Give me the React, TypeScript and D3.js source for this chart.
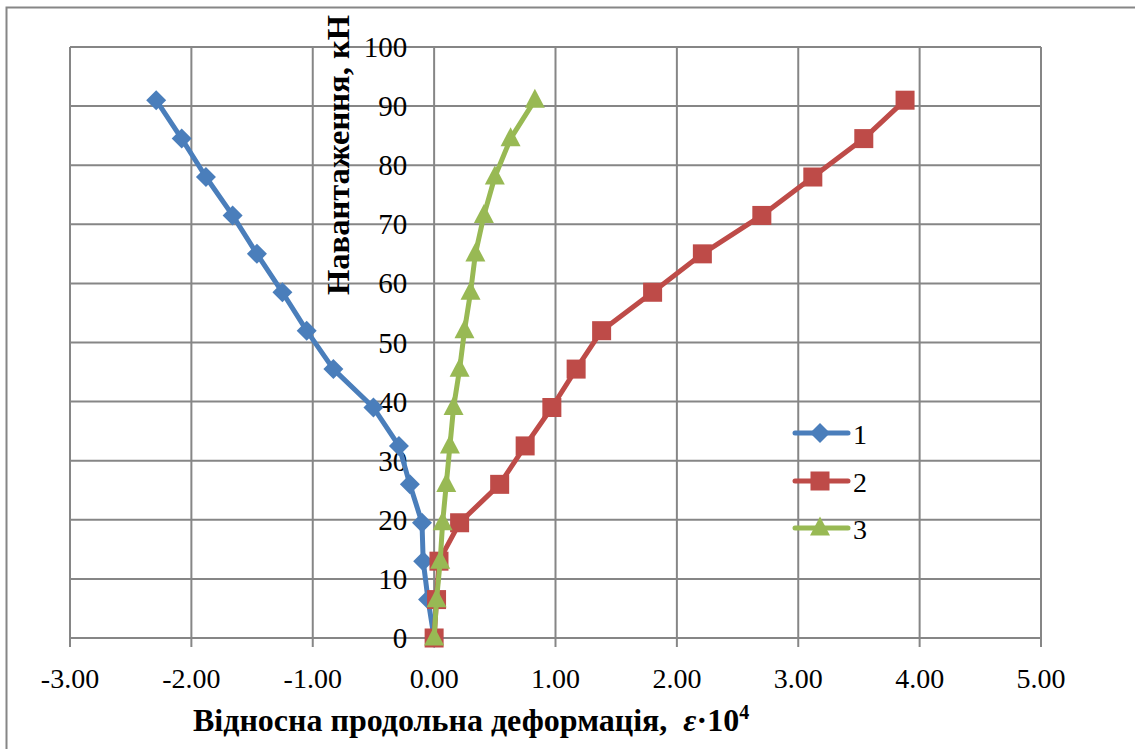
import React from "react";
import * as d3 from "d3";

const loads = [0, 6.5, 13, 19.5, 26, 32.5, 39, 45.5, 52, 58.5, 65, 71.5, 78, 84.5, 91];
const series1 = [0, -0.05, -0.09, -0.1, -0.2, -0.29, -0.5, -0.83, -1.05, -1.25, -1.46, -1.66, -1.88, -2.08, -2.29];
const series2 = [0, 0.02, 0.04, 0.21, 0.54, 0.75, 0.97, 1.17, 1.38, 1.8, 2.21, 2.7, 3.12, 3.54, 3.88];
const series3 = [0, 0.02, 0.05, 0.07, 0.1, 0.13, 0.16, 0.21, 0.25, 0.3, 0.34, 0.41, 0.5, 0.63, 0.83];
const seriesNames = ["1", "2", "3"];
const xTicks = [-3, -2, -1, 0, 1, 2, 3, 4, 5];
const yTicks = [0, 10, 20, 30, 40, 50, 60, 70, 80, 90, 100];

const COLORS = ["#4A7EBB", "#BE4B48", "#98B954"];
const GRID = "#868686";
const FONT = "'Times New Roman', Tinos, 'Nimbus Roman', 'Noto Serif', FreeSerif, 'Liberation Serif', 'DejaVu Serif', serif";

function Marker({ kind, x, y, color }: { kind: number; x: number; y: number; color: string }) {
  if (kind === 0) {
    const r = 10;
    return <path d={`M${x},${y - r}L${x + r},${y}L${x},${y + r}L${x - r},${y}Z`} fill={color} />;
  }
  if (kind === 1) {
    const s = 19;
    return <rect x={x - s / 2} y={y - s / 2} width={s} height={s} fill={color} />;
  }
  const w = 20;
  const h = 19;
  return <path d={`M${x},${y - h * 0.6}L${x + w / 2},${y + h * 0.4}L${x - w / 2},${y + h * 0.4}Z`} fill={color} />;
}

export default function App() {
  const W = 1135;
  const H = 749;
  const x = d3.scaleLinear().domain([-3, 5]).range([70, 1041]);
  const y = d3.scaleLinear().domain([0, 100]).range([638, 47]);
  const all = [series1, series2, series3];
  const line = d3
    .line<[number, number]>()
    .x((d) => x(d[0]))
    .y((d) => y(d[1]));

  const legendY = [433, 481, 528];
  const ts = { fontFamily: FONT };

  return (
    <svg
      width={W}
      height={H}
      style={{ position: "absolute", left: 0, top: 0, background: "#fff", fontFamily: FONT }}
    >
      <rect x={6.5} y={7.5} width={W + 20} height={H + 20} fill="#fff" stroke={GRID} strokeWidth={2} />
      {xTicks.map((t) => (
        <line key={"gx" + t} x1={x(t)} x2={x(t)} y1={y(100)} y2={y(0)} stroke={GRID} strokeWidth={2} />
      ))}
      {yTicks.map((t) => (
        <line key={"gy" + t} x1={x(-3)} x2={x(5)} y1={y(t)} y2={y(t)} stroke={GRID} strokeWidth={2} />
      ))}
      {xTicks.map((t) => (
        <line key={"tx" + t} x1={x(t)} x2={x(t)} y1={y(0)} y2={y(0) + 9} stroke={GRID} strokeWidth={2} />
      ))}
      {yTicks.map((t) => (
        <text key={"ly" + t} x={x(0) - 27} y={y(t) + 10} textAnchor="end" fontSize={29} fill="#000" style={ts}>
          {t}
        </text>
      ))}
      {xTicks.map((t) => (
        <text key={"lx" + t} x={x(t)} y={688} textAnchor="middle" fontSize={28} fill="#000" style={ts}>
          {t.toFixed(2)}
        </text>
      ))}
      {all.map((s, i) => {
        const pts: [number, number][] = s.map((v, j) => [v, loads[j]]);
        return (
          <g key={"s" + i}>
            <path d={line(pts) || ""} fill="none" stroke={COLORS[i]} strokeWidth={5} strokeLinejoin="round" strokeLinecap="round" />
            {pts.map((p, j) => (
              <Marker key={j} kind={i} x={x(p[0])} y={y(p[1])} color={COLORS[i]} />
            ))}
          </g>
        );
      })}
      <text
        transform={`translate(349,155) rotate(-90)`}
        textAnchor="middle"
        fontSize={32}
        fontWeight="bold"
        fill="#000"
        style={ts}
        textLength={280}
        lengthAdjust="spacingAndGlyphs"
      >
        Навантаження, кН
      </text>
      <text x={193} y={731} fontSize={32} fontWeight="bold" fill="#000" style={ts}>
        Відносна продольна деформація,{"\u00a0\u00a0"}
        <tspan fontStyle="italic">ε</tspan>·10
        <tspan dy={-12} fontSize={20}>4</tspan>
      </text>
      {seriesNames.map((n, i) => (
        <g key={"lg" + i}>
          <line x1={795} x2={848} y1={legendY[i]} y2={legendY[i]} stroke={COLORS[i]} strokeWidth={5} strokeLinecap="round" />
          <Marker kind={i} x={820} y={legendY[i]} color={COLORS[i]} />
          <text x={853} y={legendY[i] + 11} fontSize={28} fill="#000" style={ts}>
            {n}
          </text>
        </g>
      ))}
    </svg>
  );
}
